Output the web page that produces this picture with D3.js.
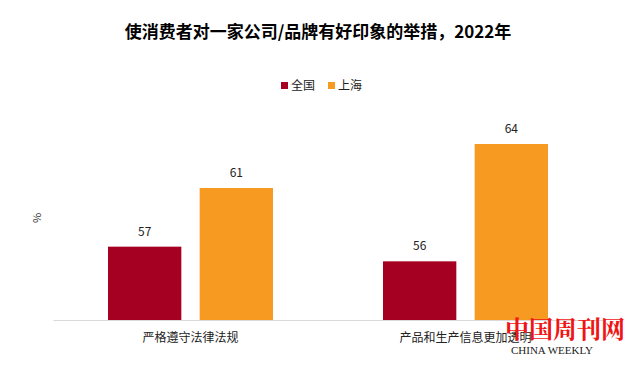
<!DOCTYPE html>
<html>
<head>
<meta charset="utf-8">
<script src="https://cdn.jsdelivr.net/npm/d3@7"></script>
<style>
  body { margin: 0; background: #fff; }
  text { font-family: "Noto Sans CJK SC", "Noto Sans", sans-serif; }
</style>
</head>
<body>
<div id="chart"></div>
<script>
var categories = ["严格遵守法律法规", "产品和生产信息更加透明"];
var seriesNames = ["全国", "上海"];
var national = [57, 56];
var shanghai = [61, 64];
var colors = ["#a50021", "#f79a21"];

var width = 637, height = 366;
var margin = { top: 100, right: 34, bottom: 46, left: 53 };
var plotW = width - margin.left - margin.right;
var plotH = height - margin.top - margin.bottom;

var svg = d3.select("#chart").append("svg")
    .attr("width", width)
    .attr("height", height);

// title
svg.append("text")
    .attr("x", 318).attr("y", 38)
    .attr("text-anchor", "middle")
    .style("font-size", "17px")
    .style("font-weight", "bold")
    .text("使消费者对一家公司/品牌有好印象的举措，2022年");

// legend
var legend = svg.append("g").attr("transform", "translate(281,86)");
seriesNames.forEach(function(s, i) {
    var lg = legend.append("g").attr("transform", "translate(" + (i * 47) + ",0)");
    lg.append("rect").attr("x", 0).attr("y", -4).attr("width", 7).attr("height", 7).attr("fill", colors[i]);
    lg.append("text").attr("x", 10).attr("y", 4).style("font-size", "12px").attr("fill", "#222").text(s);
});

var g = svg.append("g")
    .attr("transform", "translate(" + margin.left + "," + margin.top + ")");

var x0 = d3.scaleBand().domain(categories).range([0, plotW]).padding(0);
var x1 = d3.scaleBand().domain(seriesNames).range([55, 220]).paddingInner(0.2);
var y = d3.scaleLinear().domain([52, 67]).range([plotH, 0]);

var rows = categories.map(function(c, i) {
    return { cat: c, values: [national[i], shanghai[i]] };
});

var groups = g.selectAll(".grp")
    .data(rows)
    .enter().append("g")
    .attr("class", "grp")
    .attr("transform", function(d) { return "translate(" + x0(d.cat) + ",0)"; });

groups.selectAll("rect")
    .data(function(d) { return d.values.map(function(v, i) { return { s: seriesNames[i], v: v, i: i }; }); })
    .enter().append("rect")
    .attr("x", function(d) { return x1(d.s); })
    .attr("width", x1.bandwidth())
    .attr("y", function(d) { return y(d.v); })
    .attr("height", function(d) { return plotH - y(d.v); })
    .attr("fill", function(d) { return colors[d.i]; });

groups.selectAll(".lbl")
    .data(function(d) { return d.values.map(function(v, i) { return { s: seriesNames[i], v: v }; }); })
    .enter().append("text")
    .attr("class", "lbl")
    .attr("x", function(d) { return x1(d.s) + x1.bandwidth() / 2; })
    .attr("y", function(d) { return y(d.v) - 11; })
    .attr("text-anchor", "middle")
    .style("font-size", "12px")
    .attr("fill", "#222")
    .text(function(d) { return d.v; });

// x axis
var xAxis = g.append("g")
    .attr("transform", "translate(0," + plotH + ")")
    .call(d3.axisBottom(x0).tickSize(0).tickPadding(13));
xAxis.select(".domain").attr("stroke", "#d9d9d9");
xAxis.selectAll("text")
    .style("font-size", "12px")
    .style("font-family", "'Noto Sans CJK SC', sans-serif")
    .attr("fill", "#222");

// y label
svg.append("text")
    .attr("transform", "translate(41,218) rotate(-90)")
    .attr("text-anchor", "middle")
    .style("font-size", "11px")
    .attr("fill", "#333")
    .text("%");

// watermark
svg.append("text")
    .attr("x", 565).attr("y", 338)
    .attr("text-anchor", "middle")
    .style("font-family", "'Noto Serif CJK SC', 'Noto Sans CJK SC', serif")
    .style("font-size", "24px")
    .style("font-weight", "bold")
    .attr("fill", "#f01515")
    .text("中国周刊网");
svg.append("text")
    .attr("x", 552).attr("y", 354)
    .attr("text-anchor", "middle")
    .style("font-family", "'Liberation Serif', serif")
    .style("font-size", "11px")
    .attr("fill", "#222")
    .text("CHINA WEEKLY");
</script>
</body>
</html>
